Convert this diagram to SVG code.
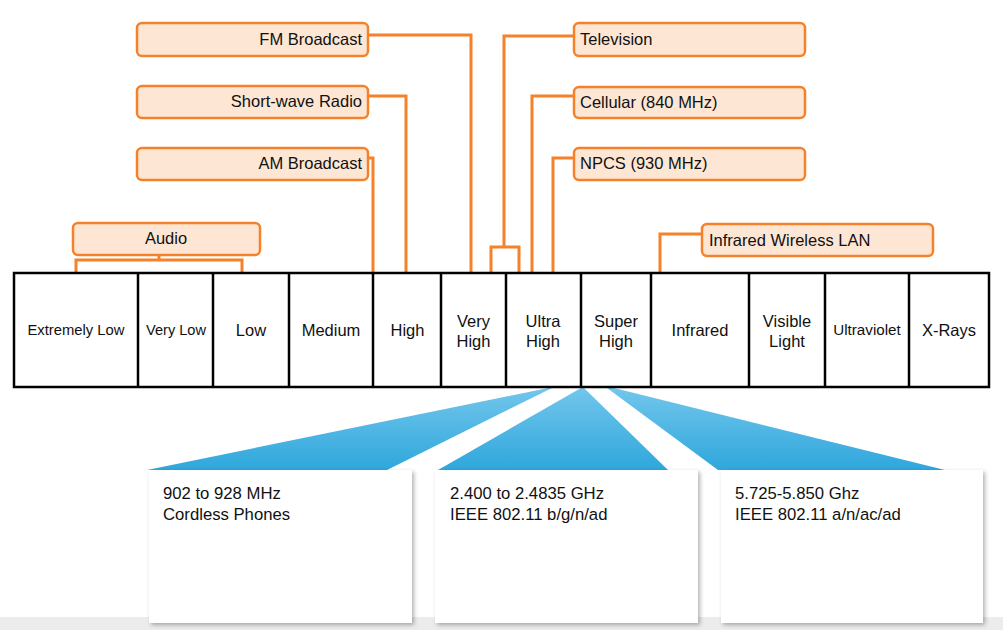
<svg xmlns="http://www.w3.org/2000/svg" width="1003" height="630" viewBox="0 0 1003 630">
<defs>
<linearGradient id="fan" x1="0" y1="0" x2="0" y2="1">
<stop offset="0" stop-color="#72c6ec"/>
<stop offset="1" stop-color="#2fa7dc"/>
</linearGradient>
<filter id="sh" x="-5%" y="-5%" width="115%" height="115%">
<feDropShadow dx="2" dy="2" stdDeviation="2" flood-color="#000" flood-opacity="0.3"/>
</filter>
<style>
.lbl{fill:#fde6d4;stroke:#f5822a;stroke-width:2.5}
.wire{fill:none;stroke:#f5822a;stroke-width:3}
.cell{fill:#fff;stroke:#000;stroke-width:2.5}
text{font-family:"Liberation Sans",Arial,sans-serif;fill:#111}
.t16{font-size:16.5px}
.ct{font-size:16.7px}
.c{text-anchor:middle}
.r{text-anchor:end}
.card{fill:#fff;filter:url(#sh)}
</style>
</defs>
<rect x="0" y="0" width="1003" height="630" fill="#fff"/>
<rect x="0" y="617" width="1003" height="13" fill="#ececec"/>

<g id="fans">
<polygon points="548,388 552,388 387,470 147,470" fill="url(#fan)"/>
<polygon points="581,388 584,388 668,470 438,470" fill="url(#fan)"/>
<polygon points="607,388 614,388 945,470 718,470" fill="url(#fan)"/>
</g>

<g id="connectors">
<polyline class="wire" points="76,273 76,260 242,260 242,273"/>
<line class="wire" x1="159" y1="255" x2="159" y2="260"/>
<polyline class="wire" points="368,158 373,158 373,273"/>
<polyline class="wire" points="368,96 406,96 406,273"/>
<polyline class="wire" points="368,35 471,35 471,273"/>
<polyline class="wire" points="491,273 491,247 519,247 519,273"/>
<polyline class="wire" points="574,36 504,36 504,247"/>
<polyline class="wire" points="574,96 532,96 532,273"/>
<polyline class="wire" points="574,158 553,158 553,273"/>
<polyline class="wire" points="702,234 660,234 660,273"/>
</g>

<g id="spectrum">
<rect class="cell" x="14" y="273" width="975" height="114" stroke-width="3"/>
<line class="cell" x1="138" y1="273" x2="138" y2="387"/>
<line class="cell" x1="213" y1="273" x2="213" y2="387"/>
<line class="cell" x1="289" y1="273" x2="289" y2="387"/>
<line class="cell" x1="373" y1="273" x2="373" y2="387"/>
<line class="cell" x1="441" y1="273" x2="441" y2="387"/>
<line class="cell" x1="506" y1="273" x2="506" y2="387"/>
<line class="cell" x1="581" y1="273" x2="581" y2="387"/>
<line class="cell" x1="651" y1="273" x2="651" y2="387"/>
<line class="cell" x1="749" y1="273" x2="749" y2="387"/>
<line class="cell" x1="825" y1="273" x2="825" y2="387"/>
<line class="cell" x1="909" y1="273" x2="909" y2="387"/>
<text class="c" x="76" y="334.5" font-size="14.8">Extremely Low</text>
<text class="c" x="176" y="334.5" font-size="14.6">Very Low</text>
<text class="c t16" x="251" y="335.5">Low</text>
<text class="c t16" x="331" y="335.5">Medium</text>
<text class="c t16" x="407.5" y="335.5">High</text>
<text class="c t16" x="473.5" y="326.5">Very</text>
<text class="c t16" x="473.5" y="346.5">High</text>
<text class="c t16" x="543" y="326.5">Ultra</text>
<text class="c t16" x="543" y="346.5">High</text>
<text class="c t16" x="616" y="326.5">Super</text>
<text class="c t16" x="616" y="346.5">High</text>
<text class="c t16" x="700" y="335.5">Infrared</text>
<text class="c t16" x="787" y="326.5">Visible</text>
<text class="c t16" x="787" y="346.5">Light</text>
<text class="c" x="867" y="334.5" font-size="15.2">Ultraviolet</text>
<text class="c t16" x="949" y="335.5">X-Rays</text>
</g>

<g id="fm"><rect class="lbl" x="137" y="23" width="231" height="33" rx="5"/><text class="t16 r" x="362" y="44.5">FM Broadcast</text></g>
<g id="shortwave"><rect class="lbl" x="137" y="86" width="231" height="32" rx="5"/><text class="t16 r" x="362" y="107">Short-wave Radio</text></g>
<g id="am"><rect class="lbl" x="137" y="148" width="231" height="32" rx="5"/><text class="t16 r" x="362" y="169">AM Broadcast</text></g>
<g id="tv"><rect class="lbl" x="574" y="23" width="231" height="33" rx="5"/><text class="t16" x="580" y="44.5">Television</text></g>
<g id="cellular"><rect class="lbl" x="574" y="87" width="231" height="31" rx="5"/><text class="t16" x="580" y="108">Cellular (840 MHz)</text></g>
<g id="npcs"><rect class="lbl" x="574" y="148" width="231" height="32" rx="5"/><text class="t16" x="580" y="169">NPCS (930 MHz)</text></g>
<g id="audio"><rect class="lbl" x="73" y="223" width="187" height="32" rx="5"/><text class="t16 c" x="166" y="243.5">Audio</text></g>
<g id="irlan"><rect class="lbl" x="702" y="224" width="231" height="32" rx="5"/><text class="t16" x="709" y="245.5">Infrared Wireless LAN</text></g>

<g id="card1"><rect class="card" x="149" y="470" width="263" height="153"/>
<text class="ct" x="163" y="499">902 to 928 MHz</text>
<text class="ct" x="163" y="520">Cordless Phones</text></g>
<g id="card2"><rect class="card" x="435" y="470" width="263" height="153"/>
<text class="ct" x="450" y="499">2.400 to 2.4835 GHz</text>
<text class="ct" x="450" y="520">IEEE 802.11 b/g/n/ad</text></g>
<g id="card3"><rect class="card" x="721" y="470" width="262" height="153"/>
<text class="ct" x="735" y="499">5.725-5.850 Ghz</text>
<text class="ct" x="735" y="520">IEEE 802.11 a/n/ac/ad</text></g>
</svg>
